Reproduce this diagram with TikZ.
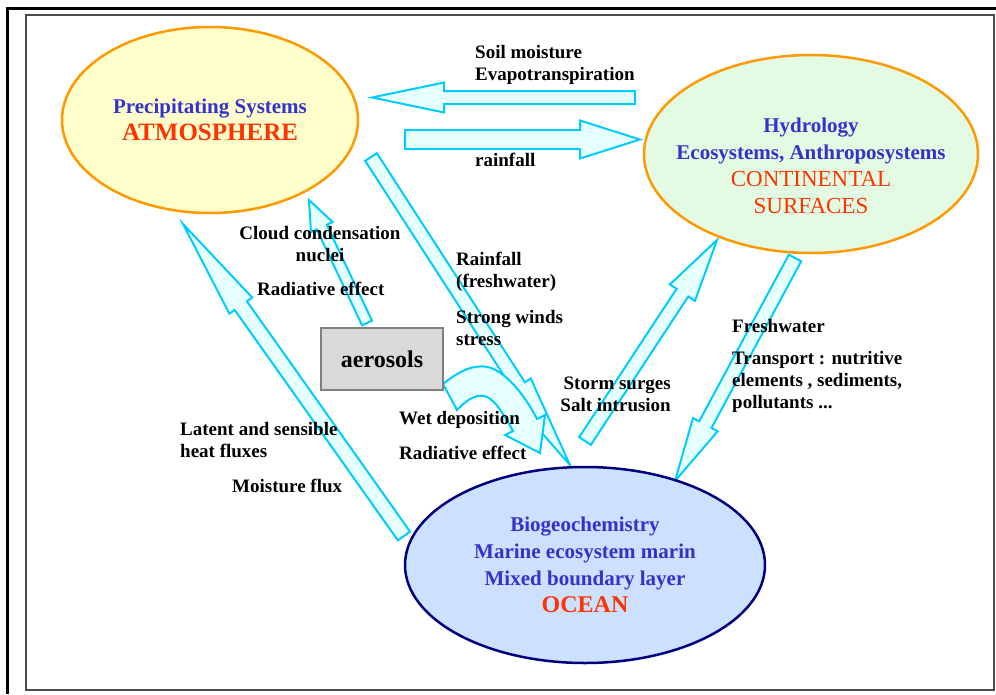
\documentclass[tikz,border=0pt]{standalone}
\usepackage{fontspec}
\setmainfont{Liberation Serif}
\usetikzlibrary{calc,shapes.geometric}

\definecolor{arrowline}{HTML}{00CCFF}
\definecolor{arrowfill}{HTML}{E6FFFF}
\definecolor{titleblue}{HTML}{3333CC}
\definecolor{titlered}{HTML}{FF3300}
\definecolor{rimorange}{HTML}{FF9900}
\definecolor{atmfill}{HTML}{FFFFCC}
\definecolor{contfill}{HTML}{E3FAE3}
\definecolor{oceanfill}{HTML}{CCE0FF}
\definecolor{oceanrim}{HTML}{000080}
\definecolor{aerfill}{HTML}{D9D9D9}

% block arrow: tail, tip, half shaft, half head, head length
\newcommand{\fatarrow}[5]{%
  \coordinate (hb) at ($(#2)!#5!(#1)$);
  \draw[flowarrow] ($(#1)!#3!90:(#2)$) -- ($(hb)!#3!90:(#2)$) -- ($(hb)!#4!90:(#2)$) -- (#2)
    -- ($(hb)!#4!-90:(#2)$) -- ($(hb)!#3!-90:(#2)$) -- ($(#1)!#3!-90:(#2)$) -- cycle;}

\begin{document}
\begin{tikzpicture}[x=1pt,y=-1pt,
    flowarrow/.style={draw=arrowline, fill=arrowfill, line width=2pt},
    sphere/.style={ellipse, line width=2.5pt, inner sep=0pt},
    title/.style={align=center, text=titleblue, inner sep=0pt,
      font=\fontsize{21}{27}\selectfont\bfseries},
    lbl/.style={align=left, inner sep=0pt, font=\fontsize{19}{22}\selectfont\bfseries}]
  \useasboundingbox (0,0) rectangle (996,694);
  % frame
  \draw[line width=3pt] (7,694) -- (7,8) -- (996,8);
  \draw[line width=1.2pt, black!70] (26,15) rectangle (994,690);

  % arrow ends
  \coordinate (soilTail) at (635,97.5);
  \coordinate (soilTip) at (372,97.5);
  \coordinate (rainTail) at (405,139.5);
  \coordinate (rainTip) at (640,139.5);
  \coordinate (freshTail) at (371,157);
  \coordinate (freshTip) at (570,465);
  \coordinate (ccnTail) at (367,323);
  \coordinate (ccnTip) at (309,200);
  \coordinate (heatTail) at (404,536);
  \coordinate (heatTip) at (183,224);
  \coordinate (stormTail) at (585,441);
  \coordinate (stormTip) at (717,240);
  \coordinate (riverTail) at (795,258);
  \coordinate (riverTip) at (675,481);

  \fatarrow{soilTail}{soilTip}{6.5pt}{15pt}{72pt}
  \fatarrow{rainTail}{rainTip}{9.5pt}{19pt}{60pt}
  \fatarrow{freshTail}{freshTip}{7pt}{14pt}{94pt}
  \fatarrow{ccnTail}{ccnTip}{5.5pt}{12pt}{30pt}
  \fatarrow{heatTail}{heatTip}{7.5pt}{14pt}{100pt}
  \fatarrow{stormTail}{stormTip}{7pt}{15pt}{63pt}
  \fatarrow{riverTail}{riverTip}{7pt}{14pt}{64pt}
  % bent arrow out of the aerosols box
  \draw[flowarrow] (443,384) .. controls (458,372) and (472,364) .. (488,367)
    .. controls (505,371) and (525,395) .. (537,419) -- (545,415) -- (540,453)
    -- (505,435) -- (513,431) .. controls (503,413) and (494,398) .. (484,396)
    .. controls (474,394) and (465,402) .. (457,410) -- cycle;

  % the three spheres
  \node[sphere, draw=rimorange, fill=atmfill, minimum width=296pt, minimum height=186pt] (atm) at (210,120) {};
  \node[sphere, draw=rimorange, fill=contfill, minimum width=334pt, minimum height=198pt] (cont) at (811,154) {};
  \node[sphere, draw=oceanrim, fill=oceanfill, minimum width=360pt, minimum height=196pt] (ocean) at (585,565) {};
  \node[draw=gray, fill=aerfill, line width=2.5pt, minimum width=122pt, minimum height=62pt,
    font=\fontsize{24}{28}\selectfont\bfseries] (aer) at (382,359) {aerosols};

  \node[title] (atmText) at (atm.center) {Precipitating Systems\\
    {\color{titlered}\fontsize{25}{29}\selectfont ATMOSPHERE}};
  \node[title] (contText) at ([yshift=-12pt]cont.center) {Hydrology\\Ecosystems, Anthroposystems\\
    {\color{titlered}\fontsize{23}{28}\selectfont\mdseries CONTINENTAL}\\
    {\color{titlered}\fontsize{23}{28}\selectfont\mdseries SURFACES}};
  \node[title] (oceanText) at (ocean.center) {Biogeochemistry\\Marine ecosystem marin\\Mixed boundary layer\\
    {\color{titlered}\fontsize{24}{28}\selectfont OCEAN}};

  % labels
  \node[lbl, anchor=west] (soilLbl) at (475,65) {Soil moisture\\Evapotranspiration};
  \node[lbl, anchor=west] (rainLbl) at (475,160) {rainfall};
  \node[lbl, align=center] (ccnLbl) at (320,244) {Cloud condensation\\nuclei};
  \node[lbl, anchor=west] (radLbl) at (257,289) {Radiative effect};
  \node[lbl, anchor=west] (freshLbl) at (456,272) {Rainfall\\(freshwater)};
  \node[lbl, anchor=west] (windLbl) at (456,328) {Strong winds\\stress};
  \node[lbl, anchor=east, align=right] (stormLbl) at (671,394) {Storm surges\\Salt intrusion};
  \node[lbl, anchor=west] (wetLbl) at (399,420) {Wet deposition};
  \node[lbl, anchor=west] (rad2Lbl) at (399,453) {Radiative effect};
  \node[lbl, anchor=west] (heatLbl) at (180,440) {Latent and sensible\\heat fluxes};
  \node[lbl, anchor=west] (moistLbl) at (232,486) {Moisture flux};
  \node[lbl, anchor=west] (riverLbl) at (732,326) {Freshwater};
  \node[lbl, anchor=west] (transLbl) at (732,382) {Transport : nutritive\\elements , sediments,\\pollutants ...};
\end{tikzpicture}
\end{document}
